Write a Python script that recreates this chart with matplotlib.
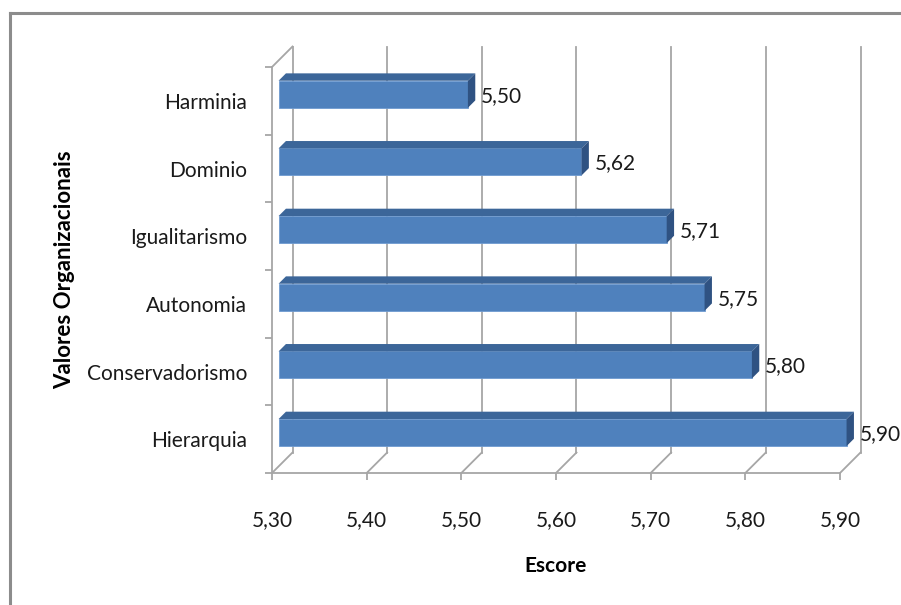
import matplotlib
import numpy as np

matplotlib.use('Agg')
import matplotlib.pyplot as plt
from matplotlib.patches import Polygon

categorias = ['Hierarquia', 'Conservadorismo', 'Autonomia', 'Igualitarismo', 'Dominio', 'Harminia']
escores = [5.90, 5.80, 5.75, 5.71, 5.62, 5.50]
ticks_x = [5.30, 5.40, 5.50, 5.60, 5.70, 5.80, 5.90]
ticks_x_labels = ['5,30', '5,40', '5,50', '5,60', '5,70', '5,80', '5,90']

plt.rcParams['font.family'] = ['Lato', 'DejaVu Sans']

W, H = 901, 605
fig = plt.figure(figsize=(W / 100, H / 100), dpi=100)

# front plane of the 3d box, in pixels
x0_px, x1_px = 272, 840
y_top_px, y_bot_px = 67, 473
ax = fig.add_axes([x0_px / W, 1 - y_bot_px / H, (x1_px - x0_px) / W, (y_bot_px - y_top_px) / H])

xmin, xmax = 5.30, 5.90
ax.set_xlim(xmin, xmax)
ax.set_ylim(-0.5, len(categorias) - 0.5)

# depth vector of the box in data units (about 20 px right, 20 px up)
px_x = (xmax - xmin) / (x1_px - x0_px)
px_y = len(categorias) / (y_bot_px - y_top_px)
DX = 20.5 * px_x
DY = 20.5 * px_y

grid_kw = dict(color='#a6a6a6', lw=1.3, clip_on=False, zorder=1)
y_lo, y_hi = -0.5, len(categorias) - 0.5
for t in ticks_x:
    ax.plot([t + DX, t + DX], [y_lo + DY, y_hi + DY], **grid_kw)
    ax.plot([t, t + DX], [y_lo, y_lo + DY], **grid_kw)
ax.plot([xmin, xmin + DX], [y_hi, y_hi + DY], **grid_kw)

# bars: front face, top face and right side
d0, d1 = 0.32, 0.68
alt = 0.4
y = np.arange(len(categorias))
vals = np.array(escores)
ax.barh(y + d0 * DY, vals - xmin, left=xmin + d0 * DX, height=alt,
        color='#4f81bd', edgecolor='#6f9bd1', lw=0.6, zorder=3, clip_on=False)
for yi, v in zip(y, vals):
    top = [(xmin + d0 * DX, yi + alt / 2 + d0 * DY), (v + d0 * DX, yi + alt / 2 + d0 * DY),
           (v + d1 * DX, yi + alt / 2 + d1 * DY), (xmin + d1 * DX, yi + alt / 2 + d1 * DY)]
    side = [(v + d0 * DX, yi - alt / 2 + d0 * DY), (v + d1 * DX, yi - alt / 2 + d1 * DY),
            (v + d1 * DX, yi + alt / 2 + d1 * DY), (v + d0 * DX, yi + alt / 2 + d0 * DY)]
    ax.add_patch(Polygon(top, closed=True, fc='#3c6699', ec='none', zorder=3, clip_on=False))
    ax.add_patch(Polygon(side, closed=True, fc='#2f5282', ec='none', zorder=3, clip_on=False))
    ax.annotate(f'{v:.2f}'.replace('.', ','), (v + d1 * DX, yi + 0.25 * DY),
                xytext=(4, 0), textcoords='offset points', ha='left', va='center',
                fontsize=15, color='#1a1a1a', zorder=4, annotation_clip=False)

for s in ['top', 'right']:
    ax.spines[s].set_visible(False)
for s in ['left', 'bottom']:
    ax.spines[s].set_color('#a6a6a6')
    ax.spines[s].set_linewidth(1.3)

ax.set_xticks(ticks_x)
ax.set_xticklabels(ticks_x_labels, fontsize=15, color='#1a1a1a')
ax.tick_params(axis='x', direction='out', length=5, width=1.3, color='#a6a6a6', pad=22)

ax.set_yticks(y)
ax.set_yticklabels(categorias, fontsize=15, color='#1a1a1a')
ax.set_yticks(np.arange(-0.5, len(categorias)), minor=True)
ax.tick_params(axis='y', which='major', length=0, pad=18)
ax.tick_params(axis='y', which='minor', direction='out', length=5, width=1.3, color='#a6a6a6')

ax.set_xlabel('Escore', fontsize=15, fontweight='bold', labelpad=18)
ax.set_ylabel('Valores Organizacionais', fontsize=16, fontweight='bold', labelpad=8)
ax.patch.set_alpha(0)

# chart frame
fig.add_artist(plt.Line2D([10 / W, 1], [1 - 13 / H, 1 - 13 / H], color='#8c8c8c', lw=2.2))
fig.add_artist(plt.Line2D([10 / W, 10 / W], [1 - 13 / H, 0], color='#8c8c8c', lw=2.2))

fig.savefig('out.png', dpi=100)
